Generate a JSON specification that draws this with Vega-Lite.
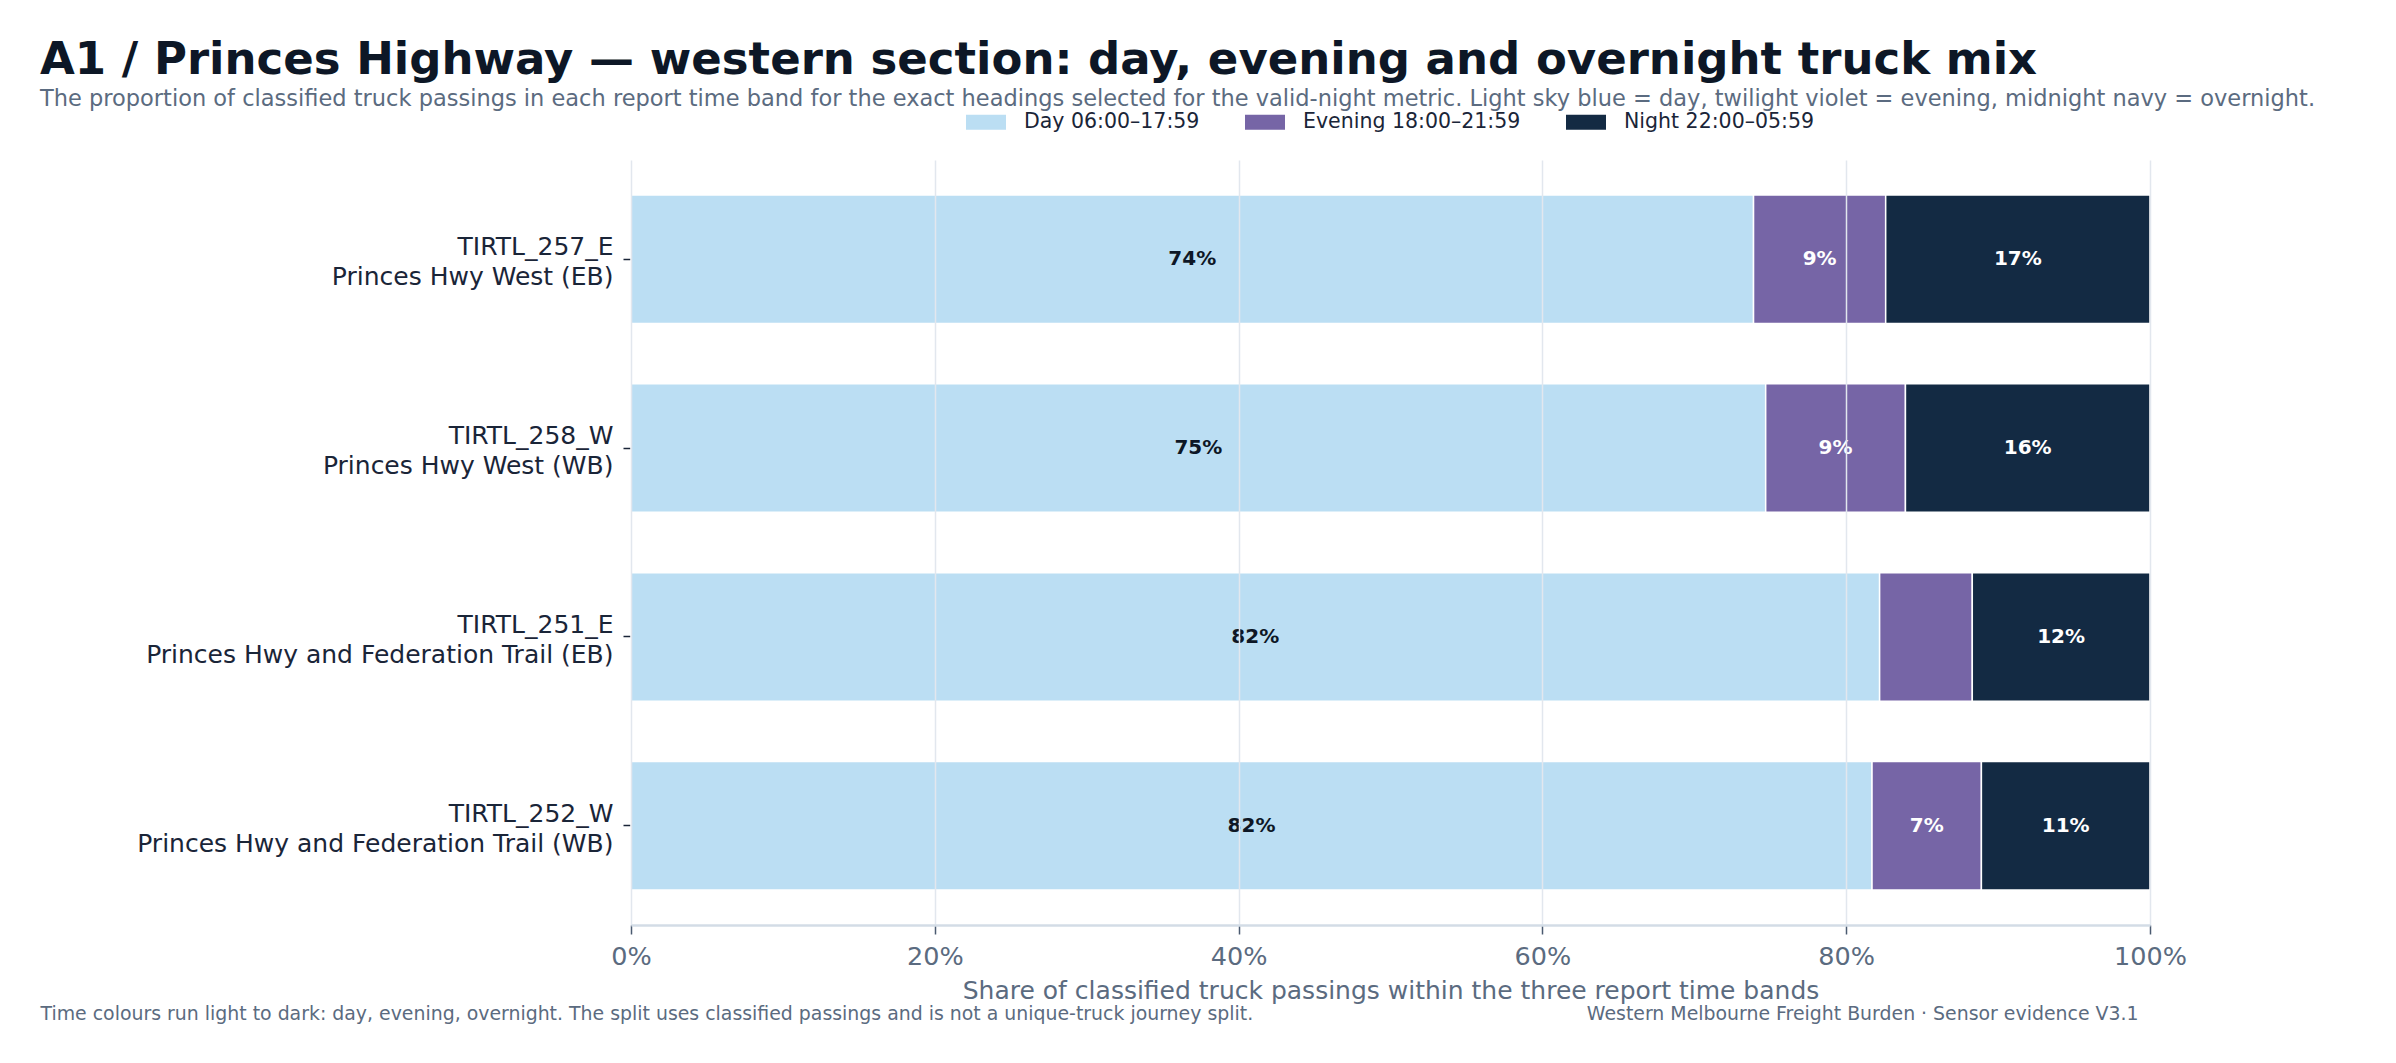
{
  "$schema": "https://vega.github.io/schema/vega-lite/v6.json",
  "width": 1519,
  "height": 765,
  "autosize": {"type": "none"},
  "padding": {"left": 631, "top": 160, "right": 246, "bottom": 138},
  "background": "white",
  "config": {
    "font": "DejaVu Sans",
    "view": {"stroke": null}
  },
  "title": {
    "text": "A1 / Princes Highway — western section: day, evening and overnight truck mix",
    "subtitle": "The proportion of classified truck passings in each report time band for the exact headings selected for the valid-night metric. Light sky blue = day, twilight violet = evening, midnight navy = overnight.",
    "anchor": "start",
    "frame": "group",
    "dx": -591,
    "offset": -8,
    "fontSize": 45,
    "fontWeight": "bold",
    "color": "#0d1726",
    "subtitleFontSize": 22.5,
    "subtitleColor": "#5b6b80",
    "subtitlePadding": 5,
    "limit": 2400
  },
  "data": {
    "values": [
      {"site": "TIRTL_257_E|Princes Hwy West (EB)", "band": "Day 06:00–17:59", "share": 0.739},
      {"site": "TIRTL_257_E|Princes Hwy West (EB)", "band": "Evening 18:00–21:59", "share": 0.087},
      {"site": "TIRTL_257_E|Princes Hwy West (EB)", "band": "Night 22:00–05:59", "share": 0.174},
      {"site": "TIRTL_258_W|Princes Hwy West (WB)", "band": "Day 06:00–17:59", "share": 0.747},
      {"site": "TIRTL_258_W|Princes Hwy West (WB)", "band": "Evening 18:00–21:59", "share": 0.092},
      {"site": "TIRTL_258_W|Princes Hwy West (WB)", "band": "Night 22:00–05:59", "share": 0.161},
      {"site": "TIRTL_251_E|Princes Hwy and Federation Trail (EB)", "band": "Day 06:00–17:59", "share": 0.822},
      {"site": "TIRTL_251_E|Princes Hwy and Federation Trail (EB)", "band": "Evening 18:00–21:59", "share": 0.061},
      {"site": "TIRTL_251_E|Princes Hwy and Federation Trail (EB)", "band": "Night 22:00–05:59", "share": 0.117},
      {"site": "TIRTL_252_W|Princes Hwy and Federation Trail (WB)", "band": "Day 06:00–17:59", "share": 0.817},
      {"site": "TIRTL_252_W|Princes Hwy and Federation Trail (WB)", "band": "Evening 18:00–21:59", "share": 0.072},
      {"site": "TIRTL_252_W|Princes Hwy and Federation Trail (WB)", "band": "Night 22:00–05:59", "share": 0.111}
    ]
  },
  "transform": [
    {"stack": "share", "groupby": ["site"], "sort": [{"field": "band", "order": "ascending"}], "as": ["x0", "x1"]},
    {"calculate": "(datum.x0 + datum.x1) / 2", "as": "mid"}
  ],
  "encoding": {
    "y": {
      "field": "site",
      "type": "nominal",
      "sort": [
        "TIRTL_257_E|Princes Hwy West (EB)",
        "TIRTL_258_W|Princes Hwy West (WB)",
        "TIRTL_251_E|Princes Hwy and Federation Trail (EB)",
        "TIRTL_252_W|Princes Hwy and Federation Trail (WB)"
      ],
      "scale": {"paddingInner": 0.32, "paddingOuter": 0.185},
      "axis": {
        "title": null,
        "domain": false,
        "grid": false,
        "labelExpr": "split(datum.label, '|')",
        "labelFontSize": 25,
        "labelLineHeight": 30,
        "labelColor": "#1a2538",
        "labelPadding": 10,
        "labelOffset": -12,
        "tickSize": 8,
        "tickWidth": 1.5,
        "tickColor": "#1a2538",
        "labelLimit": 700
      }
    }
  },
  "layer": [
    {
      "mark": {"type": "bar", "stroke": "white", "strokeWidth": 1.5},
      "encoding": {
        "x": {
          "field": "x0",
          "type": "quantitative",
          "scale": {"domain": [0, 1], "nice": false},
          "axis": {
            "orient": "bottom",
            "title": "Share of classified truck passings within the three report time bands",
            "titleFontSize": 25,
            "titleFontWeight": "normal",
            "titleColor": "#5b6b80",
            "titleY": 73,
            "titleBaseline": "alphabetic",
            "format": ".0%",
            "values": [0, 0.2, 0.4, 0.6, 0.8, 1],
            "labelFontSize": 25.5,
            "labelColor": "#5b6b80",
            "labelPadding": 10,
            "labelFlush": false,
            "tickSize": 9,
            "tickWidth": 1.5,
            "tickColor": "#4a5a70",
            "domainColor": "#d3dce6",
            "domainWidth": 2.5,
            "gridColor": "#e2e7ee",
            "gridWidth": 1.5,
            "zindex": 1
          }
        },
        "x2": {"field": "x1"},
        "color": {
          "field": "band",
          "type": "nominal",
          "scale": {
            "domain": ["Day 06:00–17:59", "Evening 18:00–21:59", "Night 22:00–05:59"],
            "range": ["#bbdef3", "#7665a6", "#132a43"]
          },
          "legend": {
            "title": null,
            "orient": "none",
            "direction": "horizontal",
            "legendX": 335,
            "legendY": -58,
            "symbolType": "M-1,-0.375H1V0.375H-1Z",
            "symbolSize": 1600,
            "symbolStrokeWidth": 0,
            "labelFontSize": 20.5,
            "labelLimit": 400,
            "labelColor": "#1a2538",
            "labelOffset": 18,
            "columnPadding": 45
          }
        }
      }
    },
    {
      "transform": [{"filter": "datum.band === 'Day 06:00–17:59'"}],
      "mark": {"type": "text", "fontSize": 20, "fontWeight": "bold", "color": "#0d1726"},
      "encoding": {
        "x": {
          "field": "mid",
          "type": "quantitative",
          "axis": {
            "orient": "bottom",
            "labels": false,
            "ticks": false,
            "domain": false,
            "grid": false,
            "title": "Time colours run light to dark: day, evening, overnight. The split uses classified passings and is not a unique-truck journey split.",
            "titleX": -591,
            "titleY": 94,
            "titleAlign": "left",
            "titleBaseline": "alphabetic",
            "titleFontSize": 18.9,
            "titleFontWeight": "normal",
            "titleColor": "#5b6b80",
            "titleLimit": 2000
          }
        },
        "text": {"field": "share", "type": "quantitative", "format": ".0%"}
      }
    },
    {
      "transform": [{"filter": "datum.band !== 'Day 06:00–17:59' && datum.share >= 0.065"}],
      "mark": {"type": "text", "fontSize": 20, "fontWeight": "bold", "color": "white"},
      "encoding": {
        "x": {
          "field": "mid",
          "type": "quantitative",
          "axis": {
            "orient": "bottom",
            "labels": false,
            "ticks": false,
            "domain": false,
            "grid": false,
            "title": "Western Melbourne Freight Burden · Sensor evidence V3.1",
            "titleX": 1507,
            "titleY": 94,
            "titleAlign": "right",
            "titleBaseline": "alphabetic",
            "titleFontSize": 18.9,
            "titleFontWeight": "normal",
            "titleColor": "#5b6b80",
            "titleLimit": 2000
          }
        },
        "text": {"field": "share", "type": "quantitative", "format": ".0%"}
      }
    }
  ],
  "resolve": {"axis": {"x": "independent"}}
}
